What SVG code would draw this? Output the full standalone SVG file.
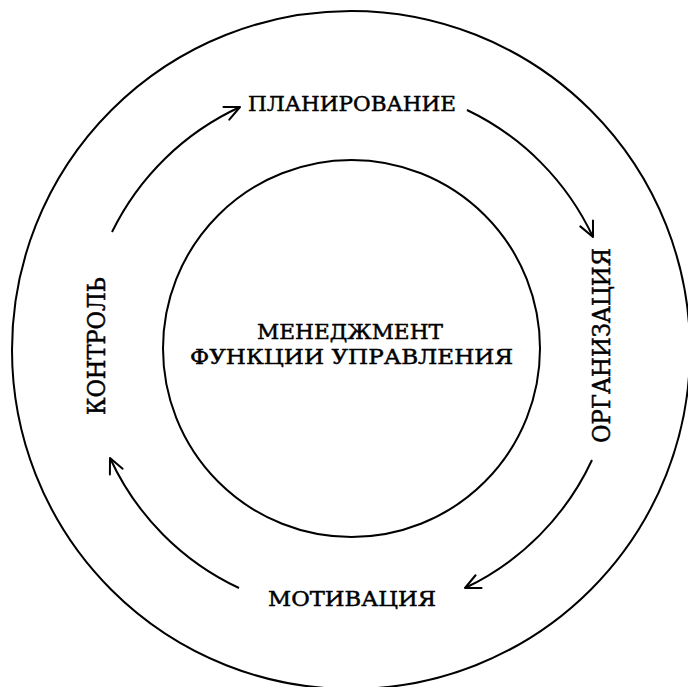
<svg xmlns="http://www.w3.org/2000/svg" width="688" height="687" viewBox="0 0 688 687">
<style>
.ring{fill:none;stroke:#000;stroke-width:2}
.arc{fill:none;stroke:#000;stroke-width:2;marker-end:url(#arr)}
.t{font-family:"DejaVu Serif","Liberation Serif",serif;font-size:21px;fill:#000;stroke:#000;stroke-width:0.5;text-anchor:middle}
.v{font-size:24px}
</style>
<defs>
<marker id="arr" markerUnits="userSpaceOnUse" markerWidth="30" markerHeight="30" refX="0" refY="0" viewBox="-20 -15 30 30" orient="auto" overflow="visible">
<path d="M-15,-7 L0,0 L-15,7" fill="none" stroke="#000" stroke-width="2" stroke-linecap="round" stroke-linejoin="round"/>
</marker>
</defs>
<rect width="688" height="687" fill="#fff"/>
<g id="outer"><circle class="ring" cx="351" cy="350" r="339"/></g>
<g id="center">
<circle class="ring" cx="351.5" cy="348.5" r="188.5"/>
<text class="t" x="350" y="339" textLength="186" lengthAdjust="spacingAndGlyphs">МЕНЕДЖМЕНТ</text>
<text class="t" x="351.5" y="364" textLength="323" lengthAdjust="spacingAndGlyphs">ФУНКЦИИ УПРАВЛЕНИЯ</text>
</g>
<g id="planning"><text class="t" x="352" y="111" textLength="208" lengthAdjust="spacingAndGlyphs">ПЛАНИРОВАНИЕ</text></g>
<g id="organization"><text class="t v" transform="translate(610,345.5) rotate(-90)" textLength="195" lengthAdjust="spacingAndGlyphs">ОРГАНИЗАЦИЯ</text></g>
<g id="motivation"><text class="t" x="352" y="606" textLength="168" lengthAdjust="spacingAndGlyphs">МОТИВАЦИЯ</text></g>
<g id="control"><text class="t v" transform="translate(105,346) rotate(-90)" textLength="138" lengthAdjust="spacingAndGlyphs">КОНТРОЛЬ</text></g>
<g id="connectors">
<path class="arc" d="M112,232 A266,266 0 0 1 240,107"/>
<path class="arc" d="M467,110 A266,266 0 0 1 593,237"/>
<path class="arc" d="M592,460 A266,266 0 0 1 465,588"/>
<path class="arc" d="M239,588 A266,266 0 0 1 110,458"/>
</g>
</svg>
